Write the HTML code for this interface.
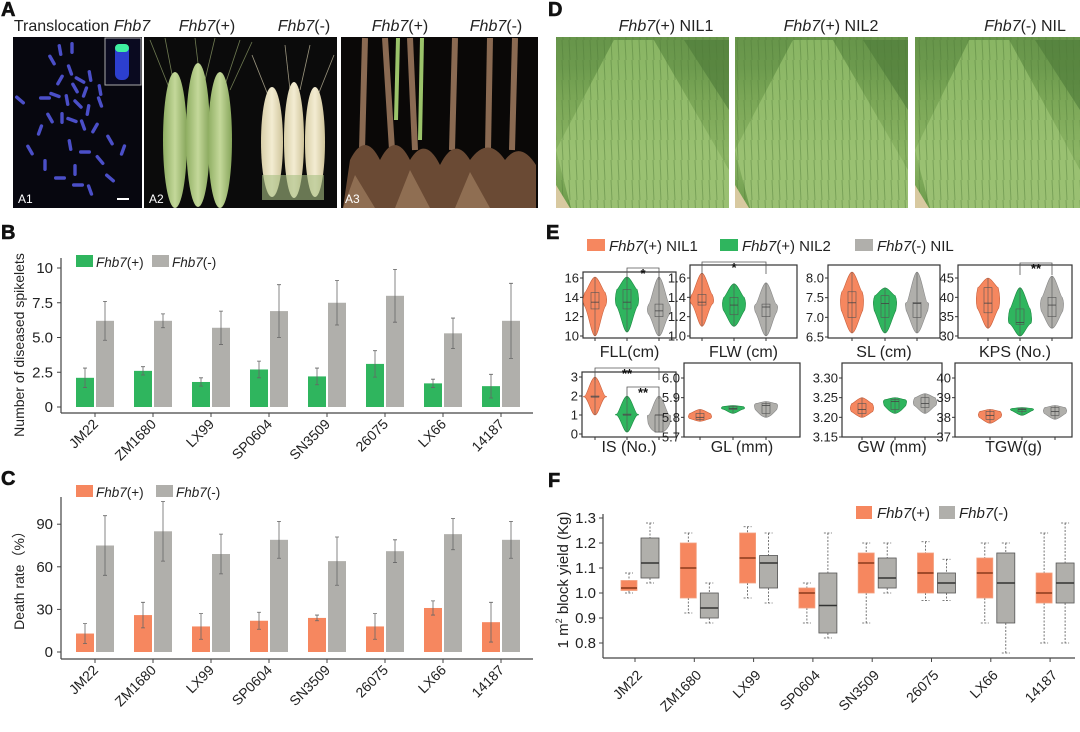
<!DOCTYPE html>
<html><head><meta charset="utf-8"><style>
html,body{margin:0;padding:0;background:#fff;}
svg{display:block;font-family:"Liberation Sans","Noto Sans CJK SC",sans-serif;}
</style></head><body>
<svg id="fig" width="1080" height="732" viewBox="0 0 1080 732" xmlns="http://www.w3.org/2000/svg">
<defs>
<linearGradient id="field" x1="0" y1="0" x2="0" y2="1">
<stop offset="0" stop-color="#5f8f45"/><stop offset="0.35" stop-color="#7aa656"/><stop offset="0.7" stop-color="#8cb565"/><stop offset="1" stop-color="#6b9a4a"/></linearGradient>
<linearGradient id="row" x1="0" y1="0" x2="0" y2="1">
<stop offset="0" stop-color="#8fbb68"/><stop offset="1" stop-color="#a3c77a"/></linearGradient>
<pattern id="stripes" width="7" height="20" patternUnits="userSpaceOnUse"><rect width="7" height="20" fill="none"/><line x1="2" y1="0" x2="3" y2="20" stroke="#4d7a36" stroke-width="1" opacity="0.45"/></pattern>
<linearGradient id="earG" x1="0" y1="0" x2="1" y2="0"><stop offset="0" stop-color="#8fae62"/><stop offset="0.5" stop-color="#c4d89a"/><stop offset="1" stop-color="#86a55a"/></linearGradient>
<linearGradient id="earC" x1="0" y1="0" x2="1" y2="0"><stop offset="0" stop-color="#d8cfa8"/><stop offset="0.5" stop-color="#f3ecd2"/><stop offset="1" stop-color="#cfc49a"/></linearGradient>
</defs>

<g font-weight="bold" font-size="20" fill="#111" stroke="#111" stroke-width="0.6">
<text x="1" y="16">A</text>
<text x="548" y="16">D</text>
<text x="1" y="239">B</text>
<text x="546" y="239">E</text>
<text x="1" y="485">C</text>
<text x="548" y="487">F</text>
</g>

<g font-size="16" fill="#222" text-anchor="middle">
<text x="82" y="31">Translocation <tspan font-style="italic">Fhb7</tspan></text>
<text x="207" y="31"><tspan font-style="italic">Fhb7</tspan>(+)</text>
<text x="304" y="31"><tspan font-style="italic">Fhb7</tspan>(-)</text>
<text x="400" y="31"><tspan font-style="italic">Fhb7</tspan>(+)</text>
<text x="496" y="31"><tspan font-style="italic">Fhb7</tspan>(-)</text>
<text x="666" y="31"><tspan font-style="italic">Fhb7</tspan>(+) NIL1</text>
<text x="831" y="31"><tspan font-style="italic">Fhb7</tspan>(+) NIL2</text>
<text x="1025" y="31"><tspan font-style="italic">Fhb7</tspan>(-) NIL</text>
</g>

<g>
<rect x="13" y="37" width="129" height="171" fill="#07070f"/>
<g id="chromos" fill="#4b4fc8"></g>
<rect x="105" y="38" width="36" height="47" fill="#0a0a20" stroke="#aaa" stroke-width="1"/>
<rect x="115" y="44" width="14" height="36" rx="6" fill="#2c3fd0"/>
<rect x="115" y="44" width="14" height="8" rx="4" fill="#3ef0a0"/>
<text x="18" y="203" font-size="12" fill="#fff">A1</text>
<rect x="117" y="198" width="12" height="2" fill="#fff"/>
</g>
<g>
<rect x="144" y="37" width="193" height="171" fill="#0b0b0b"/>
<g stroke="#9aaa70" stroke-width="0.8" opacity="0.7">
<line x1="170" y1="90" x2="150" y2="40"/><line x1="175" y1="90" x2="165" y2="38"/><line x1="200" y1="80" x2="195" y2="38"/><line x1="205" y1="80" x2="215" y2="38"/><line x1="225" y1="85" x2="240" y2="40"/><line x1="230" y1="90" x2="252" y2="42"/>
</g>
<g stroke="#d8d0b0" stroke-width="0.8" opacity="0.7">
<line x1="270" y1="100" x2="252" y2="55"/><line x1="290" y1="90" x2="285" y2="45"/><line x1="300" y1="90" x2="310" y2="45"/><line x1="318" y1="95" x2="334" y2="55"/>
</g>
<ellipse cx="175" cy="140" rx="12" ry="68" fill="url(#earG)"/>
<ellipse cx="198" cy="135" rx="12" ry="72" fill="url(#earG)"/>
<ellipse cx="220" cy="140" rx="12" ry="68" fill="url(#earG)"/>
<ellipse cx="272" cy="142" rx="11" ry="55" fill="url(#earC)"/>
<ellipse cx="294" cy="140" rx="10" ry="58" fill="url(#earC)"/>
<ellipse cx="315" cy="142" rx="10" ry="55" fill="url(#earC)"/>
<rect x="262" y="175" width="62" height="25" fill="#a9c083" opacity="0.6"/>
<text x="149" y="203" font-size="12" fill="#fff">A2</text>
</g>
<g>
<rect x="341" y="37" width="197" height="171" fill="#0a0807"/>
<g stroke-width="6" stroke="#8a6a52">
<line x1="365" y1="38" x2="362" y2="150"/><line x1="385" y1="38" x2="392" y2="150"/><line x1="410" y1="38" x2="415" y2="150"/><line x1="455" y1="38" x2="452" y2="150"/><line x1="490" y1="38" x2="488" y2="150"/><line x1="515" y1="38" x2="512" y2="150"/>
</g>
<g stroke-width="4" stroke="#9bc36a"><line x1="398" y1="38" x2="396" y2="120"/><line x1="422" y1="38" x2="420" y2="140"/></g>
<path d="M343 208 L350 160 Q365 130 380 160 Q395 130 410 160 Q425 135 440 165 Q455 135 470 160 Q488 135 505 160 Q520 140 536 165 L536 208 Z" fill="#6a4a34"/>
<path d="M343 208 L355 175 L375 208 Z M395 208 L410 170 L430 208 Z M455 208 L470 172 L490 208 Z" fill="#a07d5f" opacity="0.7"/>
<text x="345" y="203" font-size="12" fill="#fff">A3</text>
</g>
<g>
<g id="fields"></g>
</g>

<g id="panelB"></g>
<g id="panelC"></g>
<g id="panelE"></g>
<g id="panelF"></g>
</svg>
<script>
const categories = ["JM22","ZM1680","LX99","SP0604","SN3509","26075","LX66","14187"];
const bPlus = [2.1,2.6,1.8,2.7,2.2,3.1,1.7,1.5];
const bPlusErr = [0.7,0.3,0.3,0.6,0.6,0.95,0.3,0.85];
const bMinus = [6.2,6.2,5.7,6.9,7.5,8.0,5.3,6.2];
const bMinusErr = [1.4,0.5,1.2,1.9,1.6,1.9,1.1,2.7];
const bTicks = [0,2.5,5.0,7.5,10];
const bTickLabels = ["0","2.5","5.0","7.5","10"];
const cPlus = [13,26,18,22,24,18,31,21];
const cPlusErr = [7,9,9,6,2,9,5,14];
const cMinus = [75,85,69,79,64,71,83,79];
const cMinusErr = [21,21,14,13,17,8,11,13];
const cTicks = [0,30,60,90];
const fPlusMin = [1.00,0.92,0.98,0.88,0.88,0.97,0.88,0.80];
const fPlusQ1  = [1.01,0.98,1.04,0.94,1.00,1.00,0.98,0.96];
const fPlusMed = [1.02,1.10,1.14,1.00,1.12,1.08,1.08,1.00];
const fPlusQ3  = [1.05,1.20,1.24,1.02,1.16,1.16,1.14,1.08];
const fPlusMax = [1.08,1.24,1.265,1.04,1.20,1.205,1.20,1.24];
const fMinusMin = [1.04,0.88,0.96,0.82,1.00,0.97,0.76,0.80];
const fMinusQ1  = [1.06,0.90,1.02,0.84,1.02,1.00,0.88,0.96];
const fMinusMed = [1.12,0.94,1.12,0.95,1.06,1.04,1.04,1.04];
const fMinusQ3  = [1.22,1.00,1.15,1.08,1.14,1.08,1.16,1.12];
const fMinusMax = [1.28,1.04,1.24,1.24,1.20,1.135,1.20,1.28];
const fTicks = [0.8,0.9,1.0,1.1,1.2,1.3];
const traitNames = ["FLL(cm)","FLW (cm)","SL (cm)","KPS (No.)","IS (No.)","GL (mm)","GW (mm)","TGW(g)"];
const eFLL = [[10,12.8,13.5,14.5,16.1],[10.4,12.8,13.5,14.8,16.1],[10,12,12.6,13.3,16.1]];
const eFLW = [[1.1,1.32,1.35,1.43,1.65],[1.1,1.22,1.32,1.40,1.54],[1.0,1.2,1.3,1.33,1.55]];
const eSL  = [[6.6,7.0,7.37,7.65,8.15],[6.6,7.0,7.35,7.55,7.75],[6.6,7.0,7.35,7.38,8.15]];
const eKPS = [[32,36,38.5,42.5,45],[30,33,33.5,37,42.5],[32,35,38,40,45.5]];
const eIS  = [[1,1.95,1.95,2.0,3],[0.1,1,1,1.05,2],[0.1,0.1,1,1,2]];
const eGL  = [[5.78,5.79,5.80,5.82,5.84],[5.82,5.84,5.845,5.855,5.86],[5.80,5.82,5.86,5.87,5.88]];
const eGW  = [[3.20,3.21,3.22,3.235,3.25],[3.21,3.22,3.24,3.245,3.25],[3.21,3.225,3.235,3.25,3.26]];
const eTGW = [[37.7,37.9,38.1,38.3,38.4],[38.1,38.3,38.4,38.45,38.5],[37.9,38.1,38.3,38.5,38.6]];
const eTicksFLL = [10,12,14,16], eTicksFLW=[1.0,1.2,1.4,1.6], eTicksSL=[6.5,7.0,7.5,8.0], eTicksKPS=[30,35,40,45];
const eTicksIS=[0,1,2,3], eTicksGL=[5.7,5.8,5.9,6.0], eTicksGW=[3.15,3.20,3.25,3.30], eTicksTGW=[37,38,39,40];

const NS="http://www.w3.org/2000/svg";
function mk(tag, attrs, parent){const e=document.createElementNS(NS,tag);for(const k in attrs)e.setAttribute(k,attrs[k]);if(parent)parent.appendChild(e);return e;}

const GREEN="#2fb55e", GRAY="#b0afab", ORANGE="#f6875f", AX="#444";

(function(){
  const g=document.getElementById('chromos');
  const pts=[[60,50,80],[72,48,90],[52,60,60],[70,70,70],[80,80,30],[60,80,120],[75,88,60],[85,92,110],[90,76,80],[55,95,20],[67,100,80],[78,104,45],[88,110,100],[50,118,60],[62,118,90],[72,120,20],[83,125,70],[95,128,120],[20,100,40],[45,98,0],[100,102,70],[110,140,60],[123,150,110],[70,145,80],[85,152,0],[100,160,50],[45,165,90],[60,178,0],[75,170,90],[78,185,0],[90,190,70],[110,178,40],[100,90,80],[40,130,110],[30,150,60]];
  for(const p of pts){
    const r=mk('rect',{x:p[0]-6,y:p[1]-1.7,width:12,height:3.4,rx:1.7,transform:`rotate(${p[2]} ${p[0]} ${p[1]})`},g);
    
    
  }
})();

(function(){
  const g=document.getElementById('fields');
  const boxes=[[556,729],[735,908],[915,1080]];
  boxes.forEach((b,i)=>{
    const w=b[1]-b[0];
    const r=mk('rect',{x:b[0],y:37,width:w,height:171,fill:'url(#field)'},g);
    
    
    mk('path',{d:`M${b[0]} 37 L${b[1]} 37 L${b[1]} 70 L${b[0]} 70 Z`,fill:'#6c9a4f',opacity:0.6},g);
    const c=b[0]+w*0.45;
    mk('path',{d:`M${c-20} 40 L${c+20} 40 L${b[1]} 170 L${b[1]} 208 L${b[0]+15} 208 L${b[0]} 150 Z`,fill:'url(#row)',opacity:0.85},g);
    mk('path',{d:`M${b[1]-45} 40 L${b[1]} 40 L${b[1]} 110 Z`,fill:'#4d7a38',opacity:0.6},g);
    mk('rect',{x:b[0],y:37,width:w,height:171,fill:'url(#stripes)'},g);
    mk('path',{d:`M${b[0]} 185 L${b[0]+14} 208 L${b[0]} 208 Z`,fill:'#d8c9a0'},g);
  });
})();

function barChart(gid, opts){
  const g=document.getElementById(gid);
  const {y0px, pxPer, axisY, top, plus, plusErr, minus, minusErr, colPlus, ticks, tickLabels, title, titleY, legY, legX2} = opts;
  const yS=v=>y0px-v*pxPer;
  const gx=i=>76+58*i;
  mk('line',{x1:61,y1:top,x2:61,y2:axisY,stroke:AX,'stroke-width':1.2},g);
  mk('line',{x1:61,y1:axisY,x2:533,y2:axisY,stroke:AX,'stroke-width':1.2},g);
  ticks.forEach((t,i)=>{
    mk('line',{x1:57,y1:yS(t),x2:61,y2:yS(t),stroke:AX},g);
    const tx=mk('text',{x:53,y:yS(t)+5,'font-size':15,'text-anchor':'end',fill:'#222'},g);
    tx.textContent=tickLabels?tickLabels[i]:String(t);
    
    
  });
  categories.forEach((c,i)=>{
    const x=gx(i);
    const b1=mk('rect',{x:x,y:yS(plus[i]),width:18,height:plus[i]*pxPer,fill:colPlus},g);
    
    
    const b2=mk('rect',{x:x+20,y:yS(minus[i]),width:18,height:minus[i]*pxPer,fill:GRAY},g);
    
    
    [[x+9,plus[i],plusErr[i]],[x+29,minus[i],minusErr[i]]].forEach(e=>{
      const ln=mk('path',{d:`M${e[0]} ${yS(e[1]-e[2])} V${yS(e[1]+e[2])} M${e[0]-2} ${yS(e[1]-e[2])} h4 M${e[0]-2} ${yS(e[1]+e[2])} h4`,stroke:'#666','stroke-width':0.8,fill:'none'},g);
      
      
    });
    const tk=x+19;
    mk('line',{x1:tk,y1:axisY,x2:tk,y2:axisY+4,stroke:AX},g);
    const lb=mk('text',{x:tk+4,y:axisY+12,'font-size':14,'text-anchor':'end',fill:'#222',transform:`rotate(-45 ${tk+4} ${axisY+12})`},g);
    lb.textContent=c;
    
    
  });
  const yt=mk('text',{x:24,y:titleY,'font-size':14,'text-anchor':'middle',fill:'#222',transform:`rotate(-90 24 ${titleY})`},g);
  yt.textContent=title;
  
  
  const l1=mk('rect',{x:76,y:legY,width:17,height:12,fill:colPlus},g);
  
  
  const t1=mk('text',{x:96,y:legY+12,'font-size':13.5,fill:'#222'},g);
  t1.innerHTML='<tspan font-style="italic">Fhb7</tspan>(+)';
  
  
  const l2=mk('rect',{x:legX2,y:legY,width:17,height:12,fill:GRAY},g);
  
  
  const t2=mk('text',{x:legX2+20,y:legY+12,'font-size':13.5,fill:'#222'},g);
  t2.innerHTML='<tspan font-style="italic">Fhb7</tspan>(-)';
  
  
}
barChart('panelB',{y0px:407,pxPer:13.9,axisY:413,top:258,plus:bPlus,plusErr:bPlusErr,minus:bMinus,minusErr:bMinusErr,colPlus:GREEN,ticks:bTicks,tickLabels:bTickLabels,title:'Number of diseased spikelets',titleY:345,legY:255,legX2:152});
barChart('panelC',{y0px:652,pxPer:1.42,axisY:659,top:497,plus:cPlus,plusErr:cPlusErr,minus:cMinus,minusErr:cMinusErr,colPlus:ORANGE,ticks:cTicks,title:'Death rate（%）',titleY:577,legY:485,legX2:156});

(function(){
  const g=document.getElementById('panelF');
  const yS=v=>643-(v-0.8)*250;
  const tx=i=>635+59.3*i;
  mk('line',{x1:603,y1:514,x2:603,y2:658,stroke:AX,'stroke-width':1.2},g);
  mk('line',{x1:603,y1:658,x2:1075,y2:658,stroke:AX,'stroke-width':1.2},g);
  fTicks.forEach(t=>{
    mk('line',{x1:599,y1:yS(t),x2:603,y2:yS(t),stroke:AX},g);
    const l=mk('text',{x:596,y:yS(t)+5,'font-size':15,'text-anchor':'end',fill:'#222'},g);
    l.textContent=t.toFixed(1);
    
    
  });
  function box(cx,w,mn,q1,md,q3,mx,fill,name){
    const gg=mk('g',{},g);
    
    
    mk('path',{d:`M${cx} ${yS(mx)} V${yS(q3)} M${cx} ${yS(q1)} V${yS(mn)} M${cx-4} ${yS(mx)} h8 M${cx-4} ${yS(mn)} h8`,stroke:'#555','stroke-width':0.8,'stroke-dasharray':'2,1.5',fill:'none'},gg);
    mk('rect',{x:cx-w/2,y:yS(q3),width:w,height:yS(q1)-yS(q3),fill:fill,stroke:fill===ORANGE?'#f3a07f':'#555','stroke-width':0.8},gg);
    mk('line',{x1:cx-w/2,y1:yS(md),x2:cx+w/2,y2:yS(md),stroke:fill===ORANGE?'#8a3a1c':'#333','stroke-width':1.6},gg);
  }
  categories.forEach((c,i)=>{
    const t=tx(i);
    box(t-6,16,fPlusMin[i],fPlusQ1[i],fPlusMed[i],fPlusQ3[i],fPlusMax[i],ORANGE,'box-plus-'+c);
    box(t+15,18,fMinusMin[i],fMinusQ1[i],fMinusMed[i],fMinusQ3[i],fMinusMax[i],GRAY,'box-minus-'+c);
    mk('line',{x1:t,y1:658,x2:t,y2:662,stroke:AX},g);
    const l=mk('text',{x:t+8,y:676,'font-size':14,'text-anchor':'end',fill:'#222',transform:`rotate(-45 ${t+8} 676)`},g);
    l.textContent=c;
    
    
  });
  const yt=mk('text',{x:568,y:580,'font-size':15,'text-anchor':'middle',fill:'#222',transform:'rotate(-90 568 580)'},g);
  yt.innerHTML='1 m<tspan font-size="9" dy="-6">2</tspan><tspan dy="6"> block yield (Kg)</tspan>';
  
  
  const l1=mk('rect',{x:856,y:506,width:16,height:13,fill:ORANGE},g);
  
  
  const t1=mk('text',{x:877,y:518,'font-size':15,fill:'#222'},g);
  t1.innerHTML='<tspan font-style="italic">Fhb7</tspan>(+)';
  
  
  const l2=mk('rect',{x:939,y:506,width:16,height:13,fill:GRAY},g);
  
  
  const t2=mk('text',{x:959,y:518,'font-size':15,fill:'#222'},g);
  t2.innerHTML='<tspan font-style="italic">Fhb7</tspan>(-)';
  
  
})();

(function(){
  const g=document.getElementById('panelE');
  const data=[eFLL,eFLW,eSL,eKPS,eIS,eGL,eGW,eTGW];
  const ticks=[eTicksFLL,eTicksFLW,eTicksSL,eTicksKPS,eTicksIS,eTicksGL,eTicksGW,eTicksTGW];
  const dec=[0,1,1,0,0,1,2,0];
  const L=[
    [583,676,272,338,278,336,[595,627,659]],
    [690,797,265,338,278,336,[702,734,766]],
    [828,940,265,338,278,337,[852,885,917]],
    [958,1072,265,338,278,336,[988,1020,1052]],
    [582,676,372,437,377,434,[595,627,659]],
    [684,800,363,437,378,437,[700,733,766]],
    [842,942,363,437,378,437,[862,895,925]],
    [955,1072,363,437,378,437,[990,1022,1055]]
  ];
  const cols=[ORANGE,GREEN,GRAY];
  const strokes=['#c9603c','#1c8a43','#888'];
  data.forEach((d,k)=>{
    const [x0,x1,y0,y1,pt,pb,cx]=L[k];
    const tk=ticks[k];
    const lo=tk[0], hi=tk[tk.length-1];
    const yS=v=>pb-(v-lo)/(hi-lo)*(pb-pt);
    const sg=mk('g',{},g);
    
    
    mk('rect',{x:x0,y:y0,width:x1-x0,height:y1-y0,fill:'none',stroke:'#333','stroke-width':1.2},sg);
    tk.forEach(t=>{
      mk('line',{x1:x0-3,y1:yS(t),x2:x0,y2:yS(t),stroke:'#333'},sg);
      const l=mk('text',{x:x0-4,y:yS(t)+4.5,'font-size':13,'text-anchor':'end',fill:'#222'},sg);
      l.textContent=t.toFixed(dec[k]);
      
      
    });
    d.forEach((v,j)=>{
      const c=cx[j]; const w=12;
      const [mn,q1,md,q3,mx]=v.map(yS);
      const p=`M${c} ${mx} C${c+w*0.3} ${mx} ${c+w*0.7} ${q3} ${c+w*0.85} ${q3} C${c+w} ${(q3+md)/2} ${c+w} ${md} ${c+w*0.9} ${(md+q1)/2} C${c+w*0.6} ${q1} ${c+w*0.3} ${mn} ${c} ${mn} C${c-w*0.3} ${mn} ${c-w*0.6} ${q1} ${c-w*0.9} ${(md+q1)/2} C${c-w} ${md} ${c-w} ${(q3+md)/2} ${c-w*0.85} ${q3} C${c-w*0.7} ${q3} ${c-w*0.3} ${mx} ${c} ${mx} Z`;
      const vp=mk('path',{d:p,fill:cols[j],stroke:strokes[j],'stroke-width':0.6},sg);
      
      
      mk('line',{x1:c,y1:mx,x2:c,y2:mn,stroke:'#555','stroke-width':0.6},sg);
      mk('rect',{x:c-4,y:q3,width:8,height:Math.max(q1-q3,1),fill:'none',stroke:'#555','stroke-width':0.6},sg);
      mk('line',{x1:c-4,y1:md,x2:c+4,y2:md,stroke:'#444','stroke-width':0.8},sg);
      mk('line',{x1:c,y1:y1,x2:c,y2:y1+3,stroke:'#333'},sg);
    });
    const lab=mk('text',{x:(x0+x1)/2,y:k<4?357:452,'font-size':16,'text-anchor':'middle',fill:'#222'},sg);
    lab.textContent=traitNames[k];
    
    
  });
  const br=[[627,659,268,'*'],[702,766,262,'*'],[1020,1052,263,'**'],[595,659,368,'**'],[627,659,387,'**']];
  br.forEach(b=>{
    const bg=mk('g',{},g);
    
    
    mk('path',{d:`M${b[0]} ${b[2]+12} V${b[2]} H${b[1]} V${b[2]+12}`,stroke:'#555','stroke-width':0.8,fill:'none'},bg);
    const t=mk('text',{x:(b[0]+b[1])/2,y:b[2]+10,'font-size':13,'font-weight':'bold','text-anchor':'middle',fill:'#111'},bg);
    t.textContent=b[3];
  });
  const leg=[[587,ORANGE,'(+) NIL1'],[720,GREEN,'(+) NIL2'],[855,GRAY,'(-) NIL']];
  leg.forEach((l,i)=>{
    const r=mk('rect',{x:l[0],y:239,width:18,height:12,fill:l[1]},g);
    
    
    const t=mk('text',{x:l[0]+22,y:251,'font-size':15,fill:'#222'},g);
    t.innerHTML='<tspan font-style="italic">Fhb7</tspan>'+l[2];
    
    
  });
})();
</script>
</body></html>
